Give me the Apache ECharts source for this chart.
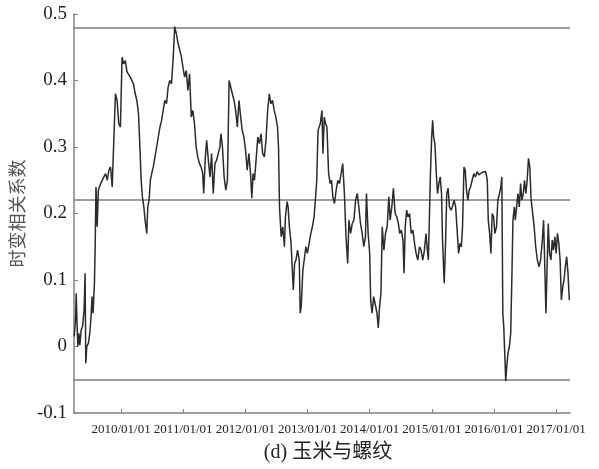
<!DOCTYPE html>
<html>
<head>
<meta charset="utf-8">
<script src="https://cdn.jsdelivr.net/npm/echarts@6/dist/echarts.min.js"></script>
<style>
  html, body { margin: 0; padding: 0; background: #ffffff; }
  #chart { width: 599px; height: 469px; }
</style>
</head>
<body>
<div id="chart"></div>
<script>
// Time-varying correlation between corn and rebar futures
// Sample times as decimal years
const times = [
  2009.246, 2009.269, 2009.278, 2009.289, 2009.305, 2009.321, 2009.337, 2009.358, 2009.380, 2009.405,
  2009.421, 2009.432, 2009.448, 2009.475, 2009.496, 2009.517, 2009.533, 2009.549, 2009.571, 2009.583,
  2009.596, 2009.615, 2009.634, 2009.671, 2009.698, 2009.723, 2009.750, 2009.777, 2009.803, 2009.830,
  2009.857, 2009.882, 2009.909, 2009.936, 2009.962, 2009.989, 2010.016, 2010.041, 2010.068, 2010.095,
  2010.121, 2010.148, 2010.175, 2010.200, 2010.227, 2010.254, 2010.280, 2010.307, 2010.323, 2010.343,
  2010.366, 2010.386, 2010.413, 2010.429, 2010.450, 2010.471, 2010.493, 2010.518, 2010.545, 2010.572,
  2010.598, 2010.625, 2010.652, 2010.677, 2010.704, 2010.731, 2010.757, 2010.784, 2010.811, 2010.836,
  2010.863, 2010.890, 2010.916, 2010.943, 2010.970, 2010.995, 2011.022, 2011.049, 2011.075, 2011.102,
  2011.129, 2011.154, 2011.181, 2011.208, 2011.234, 2011.261, 2011.288, 2011.313, 2011.329, 2011.356,
  2011.377, 2011.404, 2011.431, 2011.456, 2011.483, 2011.510, 2011.536, 2011.563, 2011.590, 2011.606,
  2011.631, 2011.658, 2011.685, 2011.711, 2011.738, 2011.765, 2011.790, 2011.817, 2011.844, 2011.870,
  2011.897, 2011.924, 2011.949, 2011.976, 2012.003, 2012.029, 2012.056, 2012.083, 2012.103, 2012.124,
  2012.146, 2012.172, 2012.199, 2012.226, 2012.251, 2012.278, 2012.305, 2012.331, 2012.358, 2012.385,
  2012.410, 2012.437, 2012.464, 2012.490, 2012.517, 2012.533, 2012.549, 2012.576, 2012.601, 2012.628,
  2012.644, 2012.671, 2012.687, 2012.708, 2012.735, 2012.750, 2012.771, 2012.792, 2012.814, 2012.839,
  2012.867, 2012.882, 2012.898, 2012.925, 2012.946, 2012.973, 2012.998, 2013.025, 2013.053, 2013.078,
  2013.105, 2013.126, 2013.148, 2013.169, 2013.205, 2013.232, 2013.248, 2013.269, 2013.291, 2013.312,
  2013.339, 2013.364, 2013.386, 2013.407, 2013.434, 2013.460, 2013.487, 2013.514, 2013.539, 2013.566,
  2013.593, 2013.619, 2013.646, 2013.666, 2013.693, 2013.720, 2013.746, 2013.773, 2013.800, 2013.825,
  2013.852, 2013.879, 2013.905, 2013.932, 2013.948, 2013.975, 2014.000, 2014.016, 2014.038, 2014.064,
  2014.091, 2014.118, 2014.138, 2014.159, 2014.181, 2014.202, 2014.229, 2014.254, 2014.281, 2014.308,
  2014.329, 2014.356, 2014.382, 2014.409, 2014.436, 2014.461, 2014.483, 2014.509, 2014.536, 2014.552,
  2014.572, 2014.595, 2014.615, 2014.642, 2014.668, 2014.695, 2014.722, 2014.747, 2014.774, 2014.801,
  2014.827, 2014.854, 2014.881, 2014.906, 2014.928, 2014.944, 2014.965, 2014.976, 2014.997, 2015.013,
  2015.029, 2015.049, 2015.072, 2015.092, 2015.113, 2015.135, 2015.156, 2015.172, 2015.199, 2015.219,
  2015.240, 2015.262, 2015.283, 2015.310, 2015.331, 2015.358, 2015.383, 2015.410, 2015.431, 2015.453,
  2015.474, 2015.494, 2015.517, 2015.537, 2015.558, 2015.580, 2015.601, 2015.622, 2015.649, 2015.676,
  2015.701, 2015.728, 2015.755, 2015.781, 2015.812, 2015.839, 2015.866, 2015.892, 2015.908, 2015.930,
  2015.951, 2015.971, 2015.994, 2016.014, 2016.041, 2016.062, 2016.089, 2016.110, 2016.126, 2016.142,
  2016.157, 2016.173, 2016.189, 2016.205, 2016.226, 2016.248, 2016.269, 2016.289, 2016.305, 2016.328,
  2016.343, 2016.364, 2016.385, 2016.407, 2016.428, 2016.448, 2016.471, 2016.491, 2016.512, 2016.534,
  2016.555, 2016.576, 2016.598, 2016.623, 2016.646, 2016.671, 2016.698, 2016.725, 2016.750, 2016.778,
  2016.798, 2016.820, 2016.836, 2016.852, 2016.873, 2016.894, 2016.916, 2016.937, 2016.957, 2016.979,
  2017.000, 2017.021, 2017.043, 2017.064, 2017.084, 2017.107, 2017.127, 2017.148, 2017.170, 2017.191,
  2017.212
];

// Correlation coefficient at each sample time
const corr = [
  0.015, 0.045, 0.080, 0.040, 0.000, 0.020, 0.002, 0.025, 0.030, 0.055,
  0.110, -0.025, 0.000, 0.005, 0.020, 0.045, 0.075, 0.050, 0.095, 0.150,
  0.240, 0.180, 0.235, 0.245, 0.248, 0.255, 0.260, 0.250, 0.265, 0.270,
  0.240, 0.240, 0.380, 0.370, 0.335, 0.330, 0.435, 0.425, 0.430, 0.413,
  0.410, 0.405, 0.403, 0.395, 0.380, 0.370, 0.350, 0.290, 0.250, 0.225,
  0.210, 0.190, 0.170, 0.210, 0.220, 0.250, 0.260, 0.270, 0.285, 0.300,
  0.315, 0.330, 0.340, 0.355, 0.370, 0.365, 0.390, 0.400, 0.395, 0.430,
  0.481, 0.470, 0.456, 0.446, 0.436, 0.420, 0.405, 0.415, 0.385, 0.410,
  0.345, 0.355, 0.335, 0.300, 0.285, 0.275, 0.270, 0.260, 0.230, 0.285,
  0.310, 0.280, 0.255, 0.290, 0.230, 0.275, 0.280, 0.290, 0.300, 0.320,
  0.300, 0.255, 0.235, 0.250, 0.400, 0.403, 0.380, 0.370, 0.355, 0.330,
  0.370, 0.345, 0.325, 0.315, 0.295, 0.265, 0.290, 0.260, 0.223, 0.260,
  0.250, 0.280, 0.315, 0.305, 0.320, 0.290, 0.285, 0.310, 0.355, 0.380,
  0.365, 0.370, 0.355, 0.345, 0.330, 0.300, 0.210, 0.165, 0.180, 0.150,
  0.195, 0.218, 0.210, 0.180, 0.155, 0.125, 0.085, 0.125, 0.130, 0.145,
  0.130, 0.050, 0.060, 0.115, 0.130, 0.150, 0.140, 0.155, 0.170, 0.180,
  0.195, 0.220, 0.250, 0.325, 0.335, 0.355, 0.290, 0.345, 0.335, 0.330,
  0.260, 0.245, 0.250, 0.225, 0.215, 0.235, 0.250, 0.245, 0.245, 0.275,
  0.230, 0.165, 0.125, 0.190, 0.170, 0.185, 0.190, 0.220, 0.230, 0.210,
  0.185, 0.170, 0.150, 0.165, 0.230, 0.170, 0.140, 0.070, 0.050, 0.075,
  0.075, 0.050, 0.028, 0.060, 0.080, 0.180, 0.145, 0.170, 0.180, 0.225,
  0.190, 0.210, 0.238, 0.200, 0.195, 0.185, 0.170, 0.175, 0.160, 0.110,
  0.180, 0.205, 0.195, 0.200, 0.170, 0.175, 0.155, 0.140, 0.130, 0.150,
  0.145, 0.130, 0.145, 0.170, 0.145, 0.130, 0.210, 0.255, 0.315, 0.340,
  0.315, 0.305, 0.260, 0.230, 0.245, 0.255, 0.230, 0.160, 0.095, 0.150,
  0.230, 0.238, 0.210, 0.205, 0.210, 0.220, 0.210, 0.170, 0.140, 0.155,
  0.150, 0.180, 0.270, 0.265, 0.235, 0.220, 0.235, 0.240, 0.250, 0.260,
  0.255, 0.263, 0.258, 0.260, 0.262, 0.260, 0.263, 0.250, 0.190, 0.170,
  0.140, 0.200, 0.195, 0.170, 0.180, 0.220, 0.230, 0.240, 0.255, 0.050,
  0.030, -0.010, -0.052, -0.030, -0.010, 0.000, 0.020, 0.110, 0.190, 0.210,
  0.190, 0.210, 0.230, 0.210, 0.245, 0.220, 0.230, 0.250, 0.230, 0.250,
  0.283, 0.270, 0.220, 0.200, 0.180, 0.150, 0.130, 0.120, 0.130, 0.160,
  0.190, 0.110, 0.050, 0.110, 0.185, 0.140, 0.130, 0.160, 0.145, 0.165,
  0.140, 0.170, 0.155, 0.130, 0.070, 0.090, 0.100, 0.120, 0.135, 0.110,
  0.070
];

// Reference level for the sample mean
const meanLevel = 0.224;

// Axis extent (decimal years) and labelled years (1 January of each)
const axisStartYear = 2009.242;
const axisEndYear = 2017.223;
const tickYears = [2010, 2011, 2012, 2013, 2014, 2015, 2016, 2017];

const seriesData = times.map((t, i) => [t, corr[i]]);
const maxLevel = Math.max(...corr);
const minLevel = Math.min(...corr);

const chart = echarts.init(document.getElementById('chart'), null, { renderer: 'canvas' });

const axisGray = '#808080';
const serif = '"Liberation Serif", "DejaVu Serif", serif';

chart.setOption({
  animation: false,
  backgroundColor: '#ffffff',
  grid: { left: 68, right: 29, top: 14, bottom: 56, containLabel: false },
  xAxis: {
    type: 'value',
    min: axisStartYear,
    max: axisEndYear,
    axisLine: { show: true, onZero: false, lineStyle: { color: axisGray, width: 1.5 } },
    axisTick: { show: true, inside: true, length: 4, customValues: tickYears,
                lineStyle: { color: axisGray, width: 1 } },
    axisLabel: {
      show: true,
      customValues: tickYears,
      margin: 10,
      color: '#222',
      fontFamily: serif,
      fontSize: 13,
      formatter: function (v) {
        return Math.round(v) + '/01/01';
      }
    },
    splitLine: { show: false }
  },
  yAxis: {
    type: 'value',
    min: -0.1,
    max: 0.5,
    interval: 0.1,
    name: '时变相关系数',
    nameLocation: 'middle',
    nameGap: 42,
    nameTextStyle: { fontFamily: '"Noto Sans CJK SC", sans-serif', fontSize: 18, color: '#555' },
    axisLine: { show: true, lineStyle: { color: axisGray, width: 1.5 } },
    axisTick: { show: true, inside: true, length: 4, lineStyle: { color: axisGray, width: 1 } },
    axisLabel: {
      margin: 7,
      color: '#222',
      fontFamily: serif,
      fontSize: 19,
      padding: [4, 0, 0, 0],
      formatter: function (v) {
        const r = Math.round(v * 10) / 10;
        return r === 0 ? '0' : r.toFixed(1);
      }
    },
    splitLine: { show: false }
  },
  series: [{
    type: 'line',
    data: seriesData,
    showSymbol: false,
    symbol: 'none',
    lineStyle: { color: '#2b2b2b', width: 1.5 },
    z: 3,
    markLine: {
      silent: true,
      symbol: ['none', 'none'],
      label: { show: false },
      lineStyle: { color: '#7d7d7d', width: 1.5, type: 'solid' },
      emphasis: { disabled: true },
      data: [
        { yAxis: maxLevel },
        { yAxis: meanLevel },
        { yAxis: minLevel }
      ],
      z: 2
    }
  }],
  graphic: [{
    type: 'text',
    x: 328,
    y: 453,
    style: {
      text: '(d) 玉米与螺纹',
      fontFamily: '"Liberation Serif", "Noto Sans CJK SC", serif',
      fontSize: 20,
      fill: '#222',
      align: 'center',
      verticalAlign: 'middle'
    }
  }]
});
</script>
</body>
</html>
